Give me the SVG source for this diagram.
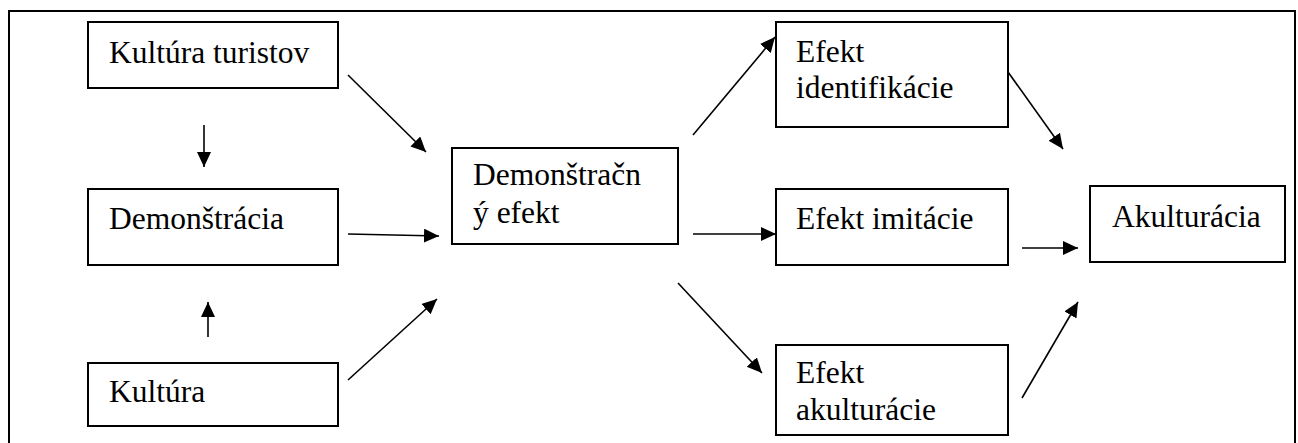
<svg xmlns="http://www.w3.org/2000/svg" width="1298" height="443" viewBox="0 0 1298 443">
  <style>
    .box { fill: #ffffff; stroke: #000000; stroke-width: 2; }
    .lbl { font-family: "Times New Roman", "Liberation Serif", Times, serif; font-size: 31.5px; fill: #000000; }
    .edge { stroke: #000000; stroke-width: 1.6; fill: none; marker-end: url(#arrow); }
    .frame { stroke: #000000; stroke-width: 2; fill: none; }
  </style>
  <defs>
    <marker id="arrow" markerUnits="userSpaceOnUse" markerWidth="16" markerHeight="16" refX="15" refY="7" orient="auto">
      <path d="M0,0 L15,7 L0,14 Z" fill="#000000"/>
    </marker>
  </defs>

  <rect x="0" y="0" width="1298" height="443" fill="#ffffff"/>

  <!-- open frame: top, left and right sides -->
  <path class="frame" d="M9,443 L9,11 L1295,11 L1295,443"/>

  <g id="kultura-turistov">
    <rect class="box" x="88" y="22" width="250" height="66"/>
    <text class="lbl" x="109" y="63">Kultúra turistov</text>
  </g>
  <g id="demonstracia">
    <rect class="box" x="88" y="189" width="250" height="76"/>
    <text class="lbl" x="109" y="229">Demonštrácia</text>
  </g>
  <g id="kultura">
    <rect class="box" x="88" y="363" width="250" height="63"/>
    <text class="lbl" x="109" y="402">Kultúra</text>
  </g>
  <g id="demonstracny-efekt">
    <rect class="box" x="452" y="148" width="226" height="96"/>
    <text class="lbl" x="473" y="185">Demonštračn</text>
    <text class="lbl" x="473" y="223">ý efekt</text>
  </g>
  <g id="efekt-identifikacie">
    <rect class="box" x="776" y="22" width="232" height="105"/>
    <text class="lbl" x="796" y="62">Efekt</text>
    <text class="lbl" x="796" y="98">identifikácie</text>
  </g>
  <g id="efekt-imitacie">
    <rect class="box" x="776" y="189" width="232" height="76"/>
    <text class="lbl" x="796" y="229">Efekt imitácie</text>
  </g>
  <g id="efekt-akulturacie">
    <rect class="box" x="776" y="345" width="232" height="90"/>
    <text class="lbl" x="796" y="383">Efekt</text>
    <text class="lbl" x="796" y="420">akulturácie</text>
  </g>
  <g id="akulturacia">
    <rect class="box" x="1090" y="186" width="195" height="76"/>
    <text class="lbl" x="1112" y="227">Akulturácia</text>
  </g>

  <g id="connectors">
    <line class="edge" x1="204" y1="125" x2="204" y2="167"/>
    <line class="edge" x1="208" y1="337" x2="208" y2="302"/>
    <line class="edge" x1="348" y1="75" x2="426" y2="152"/>
    <line class="edge" x1="348" y1="234" x2="439" y2="236"/>
    <line class="edge" x1="348" y1="380" x2="437" y2="299"/>
    <line class="edge" x1="693" y1="135" x2="775" y2="37"/>
    <line class="edge" x1="693" y1="234" x2="776" y2="234"/>
    <line class="edge" x1="678" y1="283" x2="762" y2="373"/>
    <line class="edge" x1="1008" y1="72" x2="1063" y2="149"/>
    <line class="edge" x1="1022" y1="248" x2="1078" y2="248"/>
    <line class="edge" x1="1022" y1="398" x2="1078" y2="302"/>
  </g>
</svg>
